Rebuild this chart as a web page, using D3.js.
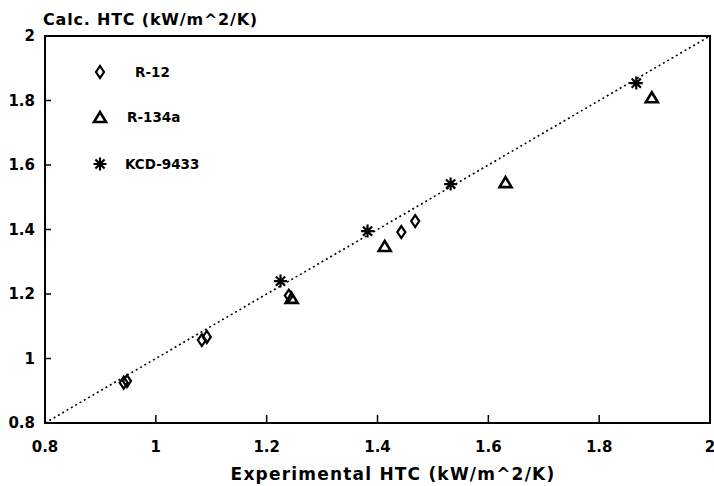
<!DOCTYPE html>
<html lang="en">
<head>
  <meta charset="UTF-8">
  <title>HTC comparison</title>
  <script type="text/javascript" src="https://cdn.jsdelivr.net/npm/d3@7/dist/d3.min.js"></script>
  <style type="text/css">
  body {
    background: #fff;
    margin: 0;
    padding: 0;
  }
  svg {
    display: block;
  }
  .frame {
    fill: none;
    stroke: #000;
    stroke-width: 2px;
  }
  .tick-lbl, .axisLabel, .legend text {
    font-family: 'DejaVu Sans', sans-serif;
    font-weight: bold;
    fill: #000;
  }
  .mark {
    fill: none;
    stroke: #000;
  }
  </style>
</head>
<body>
  <div id="chart"></div>
</body>
<script type="text/javascript">
  var width = 714, height = 486;
  var mLeft = 45, mRight = 710, mTop = 36, mBottom = 423;

  // ticks
  var tickValues = [0.8, 1, 1.2, 1.4, 1.6, 1.8, 2];
  var tickLabels = ['0.8', '1', '1.2', '1.4', '1.6', '1.8', '2'];

  // series
  var r12X = [0.942, 0.948, 1.083, 1.092, 1.24, 1.443, 1.468];
  var r12Y = [0.925, 0.93, 1.057, 1.067, 1.195, 1.392, 1.426];

  var r134aX = [1.245, 1.413, 1.631, 1.895];
  var r134aY = [1.188, 1.349, 1.547, 1.81];

  var kcdX = [1.225, 1.382, 1.532, 1.867];
  var kcdY = [1.24, 1.395, 1.541, 1.854];

  var seriesNames = ['R-12', 'R-134a', 'KCD-9433'];
  var seriesShapes = ['diamond', 'triangle', 'star'];

  var svg = d3.select('#chart')
    .append('svg')
    .attr('width', width)
    .attr('height', height);

  var xScale = d3.scaleLinear().domain([0.8, 2]).range([mLeft, mRight]);
  var yScale = d3.scaleLinear().domain([0.8, 2]).range([mBottom, mTop]);

  // marker paths
  function shapePath(type) {
    if (type == 'diamond') return 'M0,-6L4,0L0,6L-4,0Z';
    if (type == 'triangle') return 'M0,-5L6,5L-6,5Z';
    // asterisk, 8 spokes
    var p = '';
    for (var i = 0; i < 4; i++) {
      var a = i * Math.PI / 4, dx = 6.5 * Math.cos(a), dy = 6.5 * Math.sin(a);
      p += 'M' + (-dx) + ',' + (-dy) + 'L' + dx + ',' + dy;
    }
    return p;
  }
  function shapeStroke(type) {
    return type == 'star' ? 2.2 : (type == 'triangle' ? 2.6 : 2.2);
  }

  // diagonal y = x, dotted
  svg.append('line')
    .attr('x1', xScale(0.8)).attr('y1', yScale(0.8))
    .attr('x2', xScale(2)).attr('y2', yScale(2))
    .attr('stroke', '#000')
    .attr('stroke-width', 1.6)
    .attr('stroke-dasharray', '2,3');

  // frame
  svg.append('rect')
    .attr('class', 'frame')
    .attr('x', mLeft).attr('y', mTop)
    .attr('width', mRight - mLeft).attr('height', mBottom - mTop);

  // inward ticks
  var inner = tickValues.slice(1, -1);
  svg.selectAll('.xtick').data(inner).enter().append('line')
    .attr('x1', function(d){ return xScale(d); })
    .attr('x2', function(d){ return xScale(d); })
    .attr('y1', mBottom).attr('y2', mBottom - 8)
    .attr('stroke', '#000').attr('stroke-width', 1.5);
  svg.selectAll('.ytick').data(inner).enter().append('line')
    .attr('y1', function(d){ return yScale(d); })
    .attr('y2', function(d){ return yScale(d); })
    .attr('x1', mLeft).attr('x2', mLeft + 6)
    .attr('stroke', '#000').attr('stroke-width', 1.5);

  // tick labels
  svg.selectAll('.xlbl').data(tickValues).enter().append('text')
    .attr('class', 'tick-lbl')
    .attr('x', function(d){ return xScale(d); })
    .attr('y', 452)
    .attr('text-anchor', 'middle')
    .style('font-size', '15px')
    .text(function(d, i){ return tickLabels[i]; });
  svg.selectAll('.ylbl').data(tickValues).enter().append('text')
    .attr('class', 'tick-lbl')
    .attr('x', 35)
    .attr('y', function(d){ return yScale(d) + 5; })
    .attr('text-anchor', 'end')
    .style('font-size', '15px')
    .text(function(d, i){ return tickLabels[i]; });

  // axis titles
  svg.append('text')
    .attr('class', 'axisLabel')
    .attr('x', 43).attr('y', 25)
    .style('font-size', '16px')
    .style('letter-spacing', '0.8px')
    .text('Calc. HTC (kW/m^2/K)');
  svg.append('text')
    .attr('class', 'axisLabel')
    .attr('x', 393).attr('y', 480)
    .attr('text-anchor', 'middle')
    .style('font-size', '17px')
    .style('letter-spacing', '1.2px')
    .text('Experimental HTC (kW/m^2/K)');

  // points
  var series = [
    { x: r12X, y: r12Y },
    { x: r134aX, y: r134aY },
    { x: kcdX, y: kcdY }
  ];
  series.forEach(function(s, k){
    var pts = s.x.map(function(v, i){ return [v, s.y[i]]; });
    svg.selectAll('.pt' + k).data(pts).enter().append('path')
      .attr('class', 'mark')
      .attr('d', shapePath(seriesShapes[k]))
      .attr('stroke-width', shapeStroke(seriesShapes[k]))
      .attr('transform', function(d){
        return 'translate(' + xScale(d[0]) + ',' + yScale(d[1]) + ')';
      });
  });

  // legend
  var legendY = [72, 117, 164];
  var legendTextX = [135, 127, 125];
  var lg = svg.append('g').attr('class', 'legend');
  seriesNames.forEach(function(name, k){
    lg.append('path')
      .attr('class', 'mark')
      .attr('d', shapePath(seriesShapes[k]))
      .attr('stroke-width', shapeStroke(seriesShapes[k]))
      .attr('transform', 'translate(100,' + legendY[k] + ')');
    lg.append('text')
      .attr('x', legendTextX[k])
      .attr('y', legendY[k] + 5)
      .style('font-size', '13.5px')
      .text(name);
  });
</script>
</html>
